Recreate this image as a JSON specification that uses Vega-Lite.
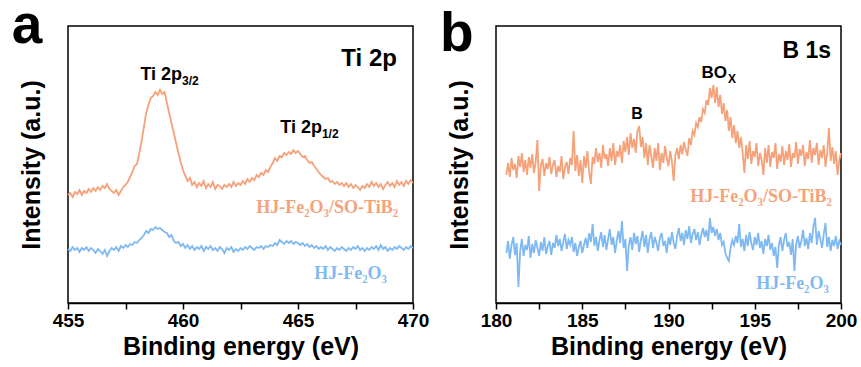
{
"$schema": "https://vega.github.io/schema/vega-lite/v6.json",
"background": "white",
"padding": {"left": 10, "top": -2, "right": 0, "bottom": 0},
"spacing": 83,
"bounds": "flush",
"config": {
  "view": {"stroke": "black", "strokeWidth": 1.5},
  "axis": {"labelFont": "Liberation Sans", "labelFontWeight": "bold", "labelFontSize": 19, "labelColor": "black", "titleFont": "Liberation Sans", "titleFontWeight": "bold", "titleFontSize": 25, "titleColor": "black", "domainColor": "black", "domainWidth": 1.5, "tickColor": "black", "tickWidth": 1.5, "grid": false}
},
"datasets": {
  "ti": [
{"e":455.0,"o":108,"b":54},{"e":455.1,"o":110,"b":52},{"e":455.2,"o":106,"b":56},{"e":455.3,"o":111,"b":53},{"e":455.4,"o":109,"b":55},{"e":455.5,"o":113,"b":51},{"e":455.6,"o":108,"b":55},{"e":455.7,"o":112,"b":53},{"e":455.8,"o":110,"b":56},{"e":455.9,"o":114,"b":52},
{"e":456.0,"o":111,"b":55},{"e":456.1,"o":115,"b":53},{"e":456.2,"o":112,"b":50},{"e":456.3,"o":116,"b":54},{"e":456.4,"o":113,"b":52},{"e":456.5,"o":117,"b":49},{"e":456.6,"o":115,"b":53},{"e":456.7,"o":119,"b":47},{"e":456.8,"o":114,"b":52},{"e":456.9,"o":112,"b":55},
{"e":457.0,"o":110,"b":53},{"e":457.1,"o":113,"b":56},{"e":457.2,"o":108,"b":52},{"e":457.3,"o":112,"b":57},{"e":457.4,"o":116,"b":55},{"e":457.5,"o":118,"b":58},{"e":457.6,"o":121,"b":56},{"e":457.7,"o":126,"b":59},{"e":457.8,"o":131,"b":58},{"e":457.9,"o":137,"b":61},
{"e":458.0,"o":139,"b":60},{"e":458.1,"o":150,"b":63},{"e":458.2,"o":162,"b":65},{"e":458.3,"o":176,"b":68},{"e":458.4,"o":190,"b":72},{"e":458.5,"o":198,"b":70},{"e":458.6,"o":205,"b":74},{"e":458.7,"o":207,"b":73},{"e":458.8,"o":211,"b":76},{"e":458.9,"o":208,"b":74},
{"e":459.0,"o":213,"b":75},{"e":459.1,"o":209,"b":73},{"e":459.2,"o":211,"b":71},{"e":459.3,"o":200,"b":70},{"e":459.4,"o":190,"b":66},{"e":459.5,"o":180,"b":68},{"e":459.6,"o":170,"b":62},{"e":459.7,"o":160,"b":60},{"e":459.8,"o":150,"b":61},{"e":459.9,"o":141,"b":57},
{"e":460.0,"o":133,"b":59},{"e":460.1,"o":127,"b":55},{"e":460.2,"o":122,"b":58},{"e":460.3,"o":125,"b":54},{"e":460.4,"o":118,"b":57},{"e":460.5,"o":121,"b":53},{"e":460.6,"o":116,"b":56},{"e":460.7,"o":120,"b":54},{"e":460.8,"o":117,"b":57},{"e":460.9,"o":122,"b":52},
{"e":461.0,"o":115,"b":56},{"e":461.1,"o":119,"b":54},{"e":461.2,"o":116,"b":57},{"e":461.3,"o":121,"b":53},{"e":461.4,"o":114,"b":55},{"e":461.5,"o":118,"b":52},{"e":461.6,"o":117,"b":56},{"e":461.7,"o":114,"b":54},{"e":461.8,"o":118,"b":50},{"e":461.9,"o":116,"b":55},
{"e":462.0,"o":119,"b":53},{"e":462.1,"o":116,"b":56},{"e":462.2,"o":121,"b":51},{"e":462.3,"o":117,"b":54},{"e":462.4,"o":120,"b":52},{"e":462.5,"o":118,"b":55},{"e":462.6,"o":122,"b":53},{"e":462.7,"o":119,"b":56},{"e":462.8,"o":124,"b":54},{"e":462.9,"o":121,"b":57},
{"e":463.0,"o":125,"b":55},{"e":463.1,"o":123,"b":53},{"e":463.2,"o":128,"b":56},{"e":463.3,"o":126,"b":55},{"e":463.4,"o":130,"b":57},{"e":463.5,"o":128,"b":54},{"e":463.6,"o":133,"b":57},{"e":463.7,"o":131,"b":56},{"e":463.8,"o":136,"b":58},{"e":463.9,"o":140,"b":57},
{"e":464.0,"o":145,"b":60},{"e":464.1,"o":142,"b":58},{"e":464.2,"o":147,"b":63},{"e":464.3,"o":146,"b":61},{"e":464.4,"o":150,"b":59},{"e":464.5,"o":148,"b":62},{"e":464.6,"o":151,"b":60},{"e":464.7,"o":149,"b":62},{"e":464.8,"o":153,"b":59},{"e":464.9,"o":150,"b":61},
{"e":465.0,"o":152,"b":60},{"e":465.1,"o":149,"b":58},{"e":465.2,"o":146,"b":60},{"e":465.3,"o":147,"b":57},{"e":465.4,"o":143,"b":59},{"e":465.5,"o":140,"b":56},{"e":465.6,"o":141,"b":58},{"e":465.7,"o":137,"b":55},{"e":465.8,"o":134,"b":57},{"e":465.9,"o":131,"b":54},
{"e":466.0,"o":128,"b":56},{"e":466.1,"o":126,"b":54},{"e":466.2,"o":124,"b":57},{"e":466.3,"o":125,"b":53},{"e":466.4,"o":121,"b":56},{"e":466.5,"o":122,"b":54},{"e":466.6,"o":119,"b":52},{"e":466.7,"o":121,"b":55},{"e":466.8,"o":118,"b":53},{"e":466.9,"o":120,"b":56},
{"e":467.0,"o":117,"b":54},{"e":467.1,"o":120,"b":52},{"e":467.2,"o":116,"b":55},{"e":467.3,"o":119,"b":53},{"e":467.4,"o":115,"b":56},{"e":467.5,"o":118,"b":54},{"e":467.6,"o":116,"b":57},{"e":467.7,"o":113,"b":53},{"e":467.8,"o":117,"b":55},{"e":467.9,"o":115,"b":52},
{"e":468.0,"o":119,"b":55},{"e":468.1,"o":116,"b":53},{"e":468.2,"o":121,"b":56},{"e":468.3,"o":117,"b":54},{"e":468.4,"o":120,"b":57},{"e":468.5,"o":116,"b":53},{"e":468.6,"o":119,"b":58},{"e":468.7,"o":114,"b":54},{"e":468.8,"o":118,"b":56},{"e":468.9,"o":121,"b":52},
{"e":469.0,"o":117,"b":55},{"e":469.1,"o":120,"b":53},{"e":469.2,"o":116,"b":56},{"e":469.3,"o":122,"b":54},{"e":469.4,"o":118,"b":57},{"e":469.5,"o":121,"b":55},{"e":469.6,"o":117,"b":53},{"e":469.7,"o":122,"b":56},{"e":469.8,"o":119,"b":54},{"e":469.9,"o":123,"b":57},
{"e":470.0,"o":120,"b":55}
  ],
  "bs": [
{"e":180.6,"o":128,"b":50},{"e":180.7,"o":140,"b":62},{"e":180.8,"o":126,"b":44},{"e":180.9,"o":145,"b":58},
{"e":181.0,"o":133,"b":66},{"e":181.1,"o":139,"b":48},{"e":181.2,"o":125,"b":60},{"e":181.3,"o":147,"b":16},{"e":181.4,"o":136,"b":52},{"e":181.5,"o":150,"b":64},{"e":181.6,"o":131,"b":47},{"e":181.7,"o":143,"b":58},{"e":181.8,"o":128,"b":53},{"e":181.9,"o":146,"b":67},
{"e":182.0,"o":135,"b":45},{"e":182.1,"o":149,"b":59},{"e":182.2,"o":130,"b":50},{"e":182.3,"o":141,"b":63},{"e":182.4,"o":163,"b":55},{"e":182.5,"o":112,"b":47},{"e":182.6,"o":138,"b":61},{"e":182.7,"o":144,"b":52},{"e":182.8,"o":127,"b":66},{"e":182.9,"o":140,"b":49},
{"e":183.0,"o":134,"b":57},{"e":183.1,"o":146,"b":62},{"e":183.2,"o":129,"b":48},{"e":183.3,"o":138,"b":60},{"e":183.4,"o":143,"b":55},{"e":183.5,"o":126,"b":68},{"e":183.6,"o":137,"b":57},{"e":183.7,"o":131,"b":64},{"e":183.8,"o":147,"b":52},{"e":183.9,"o":124,"b":61},
{"e":184.0,"o":136,"b":69},{"e":184.1,"o":141,"b":54},{"e":184.2,"o":129,"b":63},{"e":184.3,"o":145,"b":58},{"e":184.4,"o":138,"b":66},{"e":184.5,"o":172,"b":51},{"e":184.6,"o":132,"b":60},{"e":184.7,"o":148,"b":47},{"e":184.8,"o":127,"b":56},{"e":184.9,"o":143,"b":62},
{"e":185.0,"o":120,"b":50},{"e":185.1,"o":147,"b":58},{"e":185.2,"o":135,"b":65},{"e":185.3,"o":152,"b":55},{"e":185.4,"o":131,"b":70},{"e":185.5,"o":119,"b":61},{"e":185.6,"o":146,"b":79},{"e":185.7,"o":139,"b":57},{"e":185.8,"o":155,"b":66},{"e":185.9,"o":141,"b":52},
{"e":186.0,"o":150,"b":63},{"e":186.1,"o":135,"b":71},{"e":186.2,"o":158,"b":56},{"e":186.3,"o":144,"b":68},{"e":186.4,"o":149,"b":53},{"e":186.5,"o":137,"b":64},{"e":186.6,"o":155,"b":74},{"e":186.7,"o":142,"b":58},{"e":186.8,"o":160,"b":66},{"e":186.9,"o":138,"b":50},
{"e":187.0,"o":152,"b":62},{"e":187.1,"o":146,"b":72},{"e":187.2,"o":158,"b":60},{"e":187.3,"o":140,"b":82},{"e":187.4,"o":162,"b":55},{"e":187.5,"o":151,"b":64},{"e":187.6,"o":166,"b":32},{"e":187.7,"o":148,"b":58},{"e":187.8,"o":170,"b":66},{"e":187.9,"o":155,"b":53},
{"e":188.0,"o":164,"b":70},{"e":188.1,"o":150,"b":59},{"e":188.2,"o":172,"b":67},{"e":188.3,"o":177,"b":51},{"e":188.4,"o":156,"b":63},{"e":188.5,"o":166,"b":72},{"e":188.6,"o":145,"b":56},{"e":188.7,"o":160,"b":68},{"e":188.8,"o":138,"b":50},{"e":188.9,"o":158,"b":64},
{"e":189.0,"o":147,"b":71},{"e":189.1,"o":135,"b":55},{"e":189.2,"o":155,"b":66},{"e":189.3,"o":142,"b":60},{"e":189.4,"o":160,"b":52},{"e":189.5,"o":133,"b":65},{"e":189.6,"o":150,"b":70},{"e":189.7,"o":140,"b":57},{"e":189.8,"o":157,"b":62},{"e":189.9,"o":145,"b":50},
{"e":190.0,"o":137,"b":66},{"e":190.1,"o":152,"b":58},{"e":190.2,"o":141,"b":71},{"e":190.3,"o":122,"b":60},{"e":190.4,"o":148,"b":54},{"e":190.5,"o":155,"b":67},{"e":190.6,"o":144,"b":75},{"e":190.7,"o":158,"b":62},{"e":190.8,"o":149,"b":70},{"e":190.9,"o":161,"b":58},
{"e":191.0,"o":153,"b":73},{"e":191.1,"o":147,"b":64},{"e":191.2,"o":165,"b":77},{"e":191.3,"o":158,"b":60},{"e":191.4,"o":172,"b":69},{"e":191.5,"o":168,"b":74},{"e":191.6,"o":180,"b":63},{"e":191.7,"o":176,"b":71},{"e":191.8,"o":186,"b":58},{"e":191.9,"o":181,"b":68},
{"e":192.0,"o":194,"b":75},{"e":192.1,"o":190,"b":66},{"e":192.2,"o":203,"b":73},{"e":192.3,"o":198,"b":62},{"e":192.4,"o":215,"b":85},{"e":192.5,"o":205,"b":70},{"e":192.6,"o":218,"b":76},{"e":192.7,"o":200,"b":67},{"e":192.8,"o":216,"b":74},{"e":192.9,"o":196,"b":63},
{"e":193.0,"o":208,"b":70},{"e":193.1,"o":189,"b":58},{"e":193.2,"o":200,"b":61},{"e":193.3,"o":182,"b":50},{"e":193.4,"o":193,"b":45},{"e":193.5,"o":172,"b":42},{"e":193.6,"o":186,"b":55},{"e":193.7,"o":165,"b":63},{"e":193.8,"o":178,"b":58},{"e":193.9,"o":160,"b":67},
{"e":194.0,"o":172,"b":60},{"e":194.1,"o":155,"b":79},{"e":194.2,"o":166,"b":56},{"e":194.3,"o":150,"b":64},{"e":194.4,"o":130,"b":52},{"e":194.5,"o":158,"b":68},{"e":194.6,"o":144,"b":57},{"e":194.7,"o":162,"b":71},{"e":194.8,"o":139,"b":60},{"e":194.9,"o":152,"b":53},
{"e":195.0,"o":146,"b":66},{"e":195.1,"o":160,"b":58},{"e":195.2,"o":137,"b":70},{"e":195.3,"o":150,"b":55},{"e":195.4,"o":143,"b":62},{"e":195.5,"o":128,"b":49},{"e":195.6,"o":155,"b":64},{"e":195.7,"o":140,"b":57},{"e":195.8,"o":158,"b":68},{"e":195.9,"o":136,"b":53},
{"e":196.0,"o":151,"b":60},{"e":196.1,"o":145,"b":47},{"e":196.2,"o":160,"b":56},{"e":196.3,"o":134,"b":35},{"e":196.4,"o":149,"b":58},{"e":196.5,"o":141,"b":66},{"e":196.6,"o":157,"b":52},{"e":196.7,"o":138,"b":63},{"e":196.8,"o":152,"b":70},{"e":196.9,"o":143,"b":56},
{"e":197.0,"o":159,"b":61},{"e":197.1,"o":136,"b":48},{"e":197.2,"o":150,"b":64},{"e":197.3,"o":145,"b":32},{"e":197.4,"o":161,"b":59},{"e":197.5,"o":139,"b":67},{"e":197.6,"o":154,"b":55},{"e":197.7,"o":147,"b":62},{"e":197.8,"o":158,"b":73},{"e":197.9,"o":137,"b":57},
{"e":198.0,"o":151,"b":65},{"e":198.1,"o":144,"b":54},{"e":198.2,"o":163,"b":70},{"e":198.3,"o":140,"b":60},{"e":198.4,"o":155,"b":76},{"e":198.5,"o":148,"b":85},{"e":198.6,"o":160,"b":58},{"e":198.7,"o":138,"b":72},{"e":198.8,"o":153,"b":64},{"e":198.9,"o":145,"b":55},
{"e":199.0,"o":158,"b":69},{"e":199.1,"o":136,"b":80},{"e":199.2,"o":150,"b":56},{"e":199.3,"o":175,"b":66},{"e":199.4,"o":142,"b":52},{"e":199.5,"o":156,"b":63},{"e":199.6,"o":139,"b":57},{"e":199.7,"o":152,"b":67},{"e":199.8,"o":128,"b":54},{"e":199.9,"o":143,"b":62},
{"e":200.0,"o":150,"b":58}
  ]
},
"hconcat": [
  {
    "width": 345, "height": 277,
    "encoding": {
      "x": {"field": "e", "type": "quantitative", "scale": {"domain": [455, 470], "nice": false, "zero": false},
            "axis": {"title": "Binding energy (eV)", "values": [455, 457.5, 460, 462.5, 465, 467.5, 470], "labelExpr": "datum.value % 5 == 0 ? format(datum.value, 'd') : ''", "tickSize": 6, "labelPadding": 2, "titlePadding": 4, "labelFlush": false}},
      "y": {"field": "v", "type": "quantitative", "scale": {"domain": [0, 277], "nice": false, "zero": false},
            "axis": {"title": "Intensity (a.u.)", "labels": false, "ticks": false, "domain": false, "titlePadding": 24}}
    },
    "layer": [
      {"data": {"name": "ti"}, "transform": [{"fold": ["o", "b"], "as": ["s", "v"]}],
       "mark": {"type": "line", "strokeWidth": 1.8},
       "encoding": {"color": {"field": "s", "type": "nominal", "scale": {"domain": ["o", "b"], "range": ["#F5A27A", "#7FB9F2"]}, "legend": null}}},
      {"data": {"values": [{"e": 452.55, "v": 260, "t": "a"}]},
       "mark": {"type": "text", "font": "Liberation Sans", "fontWeight": "bold", "fontSize": 55, "align": "left", "baseline": "alphabetic", "color": "black"},
       "encoding": {"text": {"field": "t"}}},
      {"data": {"values": [{"e": 459.96, "v": 223, "t": "Ti 2p"}, {"e": 466.04, "v": 170, "t": "Ti 2p"}]},
       "mark": {"type": "text", "font": "Liberation Sans", "fontWeight": "bold", "fontSize": 18, "align": "right", "baseline": "alphabetic", "color": "black"},
       "encoding": {"text": {"field": "t"}}},
      {"data": {"values": [{"e": 459.96, "v": 218, "t": "3/2"}, {"e": 466.04, "v": 165, "t": "1/2"}]},
       "mark": {"type": "text", "font": "Liberation Sans", "fontWeight": "bold", "fontSize": 12, "align": "left", "baseline": "alphabetic", "color": "black"},
       "encoding": {"text": {"field": "t"}}},
      {"data": {"values": [{"e": 469.3, "v": 237, "t": "Ti 2p"}]},
       "mark": {"type": "text", "font": "Liberation Sans", "fontWeight": "bold", "fontSize": 24, "align": "right", "baseline": "alphabetic", "color": "black"},
       "encoding": {"text": {"field": "t"}}},
      {"data": {"values": [{"e": 469.35, "v": 90, "t": "HJ-Fe₂O₃/SO-TiB₂", "s": "o"}, {"e": 468.87, "v": 24, "t": "HJ-Fe₂O₃", "s": "b"}]},
       "mark": {"type": "text", "font": "Liberation Serif", "fontWeight": "bold", "fontSize": 18, "align": "right", "baseline": "alphabetic"},
       "encoding": {"text": {"field": "t"}, "color": {"field": "s", "type": "nominal", "legend": null}}}
    ]
  },
  {
    "width": 345, "height": 277,
    "encoding": {
      "x": {"field": "e", "type": "quantitative", "scale": {"domain": [180, 200], "nice": false, "zero": false},
            "axis": {"title": "Binding energy (eV)", "values": [180, 182.5, 185, 187.5, 190, 192.5, 195, 197.5, 200], "labelExpr": "datum.value % 5 == 0 ? format(datum.value, 'd') : ''", "tickSize": 6, "labelPadding": 2, "titlePadding": 4, "labelFlush": false}},
      "y": {"field": "v", "type": "quantitative", "scale": {"domain": [0, 277], "nice": false, "zero": false},
            "axis": {"title": "Intensity (a.u.)", "labels": false, "ticks": false, "domain": false, "titlePadding": 24}}
    },
    "layer": [
      {"data": {"name": "bs"}, "transform": [{"fold": ["o", "b"], "as": ["s", "v"]}],
       "mark": {"type": "line", "strokeWidth": 1.8},
       "encoding": {"color": {"field": "s", "type": "nominal", "scale": {"domain": ["o", "b"], "range": ["#F5A27A", "#7FB9F2"]}, "legend": null}}},
      {"data": {"values": [{"e": 176.75, "v": 252, "t": "b"}]},
       "mark": {"type": "text", "font": "Liberation Sans", "fontWeight": "bold", "fontSize": 55, "align": "left", "baseline": "alphabetic", "color": "black"},
       "encoding": {"text": {"field": "t"}}},
      {"data": {"values": [{"e": 188.17, "v": 184, "t": "B"}]},
       "mark": {"type": "text", "font": "Liberation Sans", "fontWeight": "bold", "fontSize": 16, "align": "center", "baseline": "alphabetic", "color": "black"},
       "encoding": {"text": {"field": "t"}}},
      {"data": {"values": [{"e": 193.39, "v": 225, "t": "BO"}]},
       "mark": {"type": "text", "font": "Liberation Sans", "fontWeight": "bold", "fontSize": 17, "align": "right", "baseline": "alphabetic", "color": "black"},
       "encoding": {"text": {"field": "t"}}},
      {"data": {"values": [{"e": 193.45, "v": 220, "t": "X"}]},
       "mark": {"type": "text", "font": "Liberation Sans", "fontWeight": "bold", "fontSize": 12, "align": "left", "baseline": "alphabetic", "color": "black"},
       "encoding": {"text": {"field": "t"}}},
      {"data": {"values": [{"e": 199.42, "v": 245, "t": "B 1s"}]},
       "mark": {"type": "text", "font": "Liberation Sans", "fontWeight": "bold", "fontSize": 23, "align": "right", "baseline": "alphabetic", "color": "black"},
       "encoding": {"text": {"field": "t"}}},
      {"data": {"values": [{"e": 199.48, "v": 101, "t": "HJ-Fe₂O₃/SO-TiB₂", "s": "o"}, {"e": 199.3, "v": 14, "t": "HJ-Fe₂O₃", "s": "b"}]},
       "mark": {"type": "text", "font": "Liberation Serif", "fontWeight": "bold", "fontSize": 18, "align": "right", "baseline": "alphabetic"},
       "encoding": {"text": {"field": "t"}, "color": {"field": "s", "type": "nominal", "legend": null}}}
    ]
  }
]
}
